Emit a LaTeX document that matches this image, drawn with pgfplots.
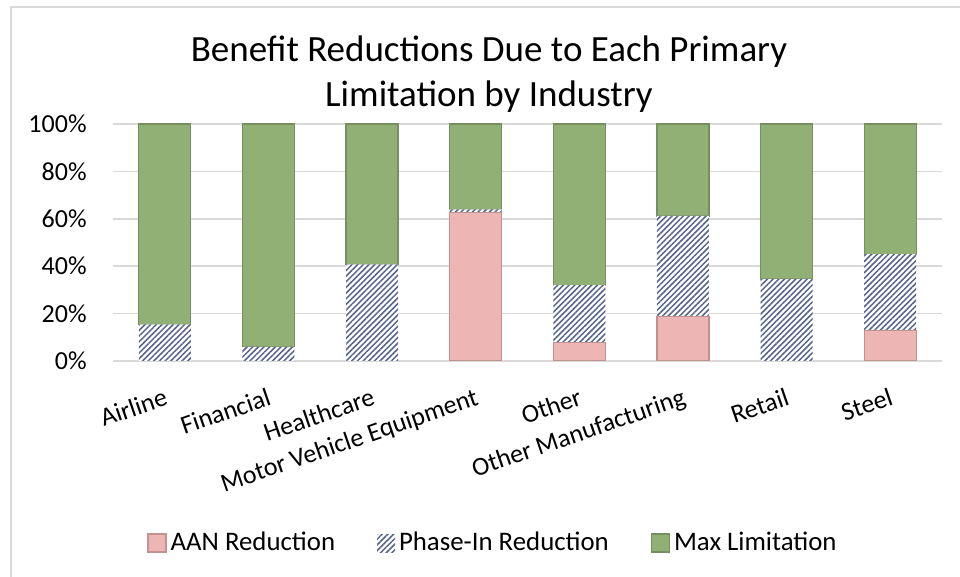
\documentclass[border=0pt]{standalone}
\usepackage{fontspec}
\setmainfont{Carlito}
\usepackage{pgfplots}
\pgfplotsset{compat=1.18}
\usetikzlibrary{patterns.meta}
\definecolor{gridgray}{HTML}{D9D9D9}
\definecolor{gF}{HTML}{90B076}
\definecolor{gE}{HTML}{768F60}
\definecolor{pF}{HTML}{EDB6B4}
\definecolor{pE}{HTML}{C29290}
\definecolor{hatch}{HTML}{55648A}
\begin{document}
\begin{tikzpicture}
\useasboundingbox (0pt,0pt) rectangle (480pt,288.5pt);
\draw[gridgray, line width=1pt] (5.5pt,0pt) -- (5.5pt,285pt) -- (480pt,285pt);
\node[anchor=base, font=\fontsize{18.5}{22}\selectfont] at (244.5pt,257.5pt) {Benefit Reductions Due to Each Primary};
\node[anchor=base, font=\fontsize{18.5}{22}\selectfont] at (244.5pt,235pt) {Limitation by Industry};
\begin{axis}[
  at={(56.5pt,108pt)}, anchor=south west,
  scale only axis, width=414.5pt, height=118.5pt,
  xmin=-0.5, xmax=7.5, ymin=0, ymax=100,
  ybar stacked, bar width=26pt,
  ytick={0,20,...,100},
  ymajorgrids, grid style={gridgray, line width=0.75pt},
  axis line style={draw=none},
  major tick length=0pt,
  xtick={0,...,7},
  xticklabels={Airline, Financial, Healthcare, Motor Vehicle Equipment, Other, Other Manufacturing, Retail, Steel},
  tick label style={font=\fontsize{13}{15}\selectfont},
  /pgf/number format/assume math mode=true,
  yticklabel={\pgfmathprintnumber{\tick}\%},
  yticklabel style={anchor=east, inner sep=0pt, xshift=-13pt},
  xticklabel style={rotate=19, anchor=north east, inner sep=0pt, yshift=-12pt, xshift=-5pt},
  legend columns=3,
  legend style={at={(0.4596,-0.768)}, anchor=center, draw=none, font=\fontsize{13.4}{15}\selectfont,
    /tikz/every even column/.append style={column sep=19pt}},
  legend image code/.code={\path[#1] (0pt,-4.5pt) rectangle (9pt,4.5pt);},
]
\addplot[draw=pE, line width=0.6pt, fill=pF] coordinates {(0,0) (1,0) (2,0) (3,62.6) (4,7.9) (5,18.7) (6,0) (7,12.8)};
\addplot[draw=none, fill=white, postaction={pattern={Lines[angle=45, distance=2pt, line width=0.75pt]}, pattern color=hatch}] coordinates {(0,15.5) (1,6.0) (2,40.8) (3,1.4) (4,24.1) (5,42.5) (6,34.6) (7,32.3)};
\addplot[draw=gE, line width=0.6pt, fill=gF] coordinates {(0,84.5) (1,94.0) (2,59.2) (3,36.0) (4,68.0) (5,38.8) (6,65.4) (7,54.9)};
\legend{AAN Reduction, Phase-In Reduction, Max Limitation}
\end{axis}
\end{tikzpicture}
\end{document}
